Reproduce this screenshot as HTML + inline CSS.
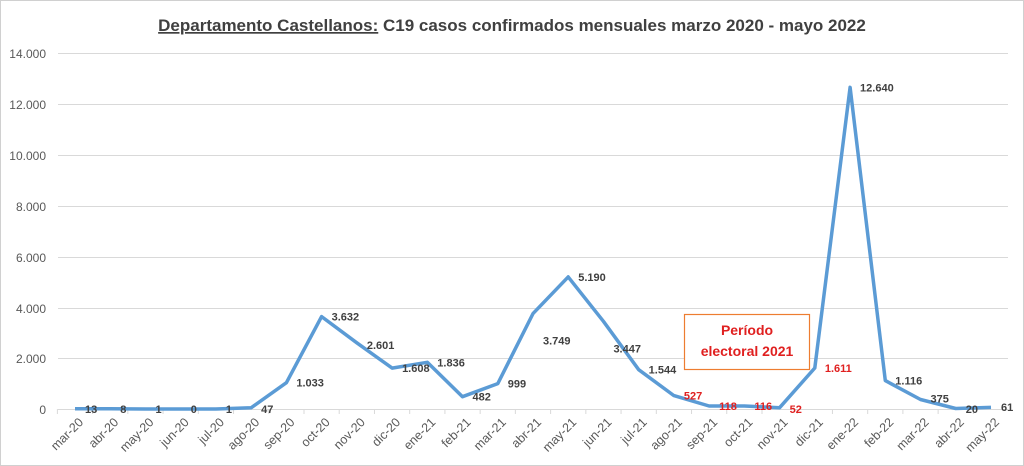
<!DOCTYPE html>
<html><head><meta charset="utf-8"><style>
body{margin:0;background:#fff;}
svg{display:block;font-family:"Liberation Sans",Arial,sans-serif;}
</style></head><body>
<svg width="1024" height="466" viewBox="0 0 1024 466">
<rect x="0.5" y="0.5" width="1023" height="465" fill="#fff" stroke="#d0d0d0"/>
<text x="512" y="31" text-anchor="middle" font-size="17" font-weight="bold" fill="#404040"><tspan text-decoration="underline">Departamento Castellanos:</tspan> C19 casos confirmados mensuales marzo 2020 - mayo 2022</text>
<g stroke="#d9d9d9" stroke-width="1">
<line x1="58" x2="1008" y1="53.5" y2="53.5"/><line x1="58" x2="1008" y1="104.5" y2="104.5"/>
<line x1="58" x2="1008" y1="155.5" y2="155.5"/><line x1="58" x2="1008" y1="206.5" y2="206.5"/>
<line x1="58" x2="1008" y1="257.5" y2="257.5"/><line x1="58" x2="1008" y1="308.5" y2="308.5"/>
<line x1="58" x2="1008" y1="358.5" y2="358.5"/><line x1="58" x2="1008" y1="409.5" y2="409.5"/>
</g>
<g font-size="12" fill="#595959" text-anchor="end">
<text x="46" y="58">14.000</text><text x="46" y="109">12.000</text><text x="46" y="160">10.000</text>
<text x="46" y="211">8.000</text><text x="46" y="262">6.000</text><text x="46" y="313">4.000</text>
<text x="46" y="363">2.000</text><text x="46" y="414">0</text>
</g>
<g id="ticks" stroke="#d9d9d9"></g>
<g id="xl" font-size="12.5" fill="#595959"></g>
<polyline id="ln" fill="none" stroke="#5b9bd5" stroke-width="3.5" stroke-linejoin="round"/>
<g id="dl" font-size="11" font-weight="bold"></g>
<rect x="684.5" y="314.5" width="125" height="55" fill="#fff" stroke="#ed7d31" stroke-width="1.2"/>
<text x="747" y="335" text-anchor="middle" font-size="14" font-weight="bold" fill="#e02020">Período</text>
<text x="747" y="356" text-anchor="middle" font-size="14" font-weight="bold" fill="#e02020">electoral 2021</text>
<script>
var v=[13,8,1,0,1,47,1033,3632,2601,1608,1836,482,999,3749,5190,3447,1544,527,118,116,52,1611,12640,1116,375,20,61];
var m=["mar-20","abr-20","may-20","jun-20","jul-20","ago-20","sep-20","oct-20","nov-20","dic-20","ene-21","feb-21","mar-21","abr-21","may-21","jun-21","jul-21","ago-21","sep-21","oct-21","nov-21","dic-21","ene-22","feb-22","mar-22","abr-22","may-22"];
var ns="http://www.w3.org/2000/svg",dx=35.23,x0=75;
function X(i){return x0+i*dx}function Y(a){return 409-a*0.02545}
var pts=v.map(function(a,i){return X(i).toFixed(1)+","+Y(a).toFixed(1)}).join(" ");
document.getElementById("ln").setAttribute("points",pts);
var red=[17,18,19,20,21];
var dl=document.getElementById("dl"),xl=document.getElementById("xl"),tk=document.getElementById("ticks");
for(var i=0;i<27;i++){
 var t=document.createElementNS(ns,"text");
 var yy=Y(v[i])+4;
 if(i==13||i==15)yy=Y(v[i])+31;
 if(i==8)yy=Y(v[i])+6;
 if(v[i]<100)yy=413; if(i==26)yy=411; if(i==24)yy=Y(v[i])+3;
 t.setAttribute("x",X(i)+10);t.setAttribute("y",yy);
 t.setAttribute("fill",red.indexOf(i)>=0?"#e02020":"#404040");
 t.textContent=v[i].toLocaleString("de-DE");dl.appendChild(t);
 var l=document.createElementNS(ns,"text");
 l.setAttribute("transform","translate("+(X(i)+9)+",423) rotate(-45)");
 l.setAttribute("text-anchor","end");l.textContent=m[i];xl.appendChild(l);
 var k=document.createElementNS(ns,"line");var tx=X(i)-dx/2;
 k.setAttribute("x1",tx);k.setAttribute("x2",tx);k.setAttribute("y1",409);k.setAttribute("y2",414);tk.appendChild(k);
}
</script>
</svg>
</body></html>
